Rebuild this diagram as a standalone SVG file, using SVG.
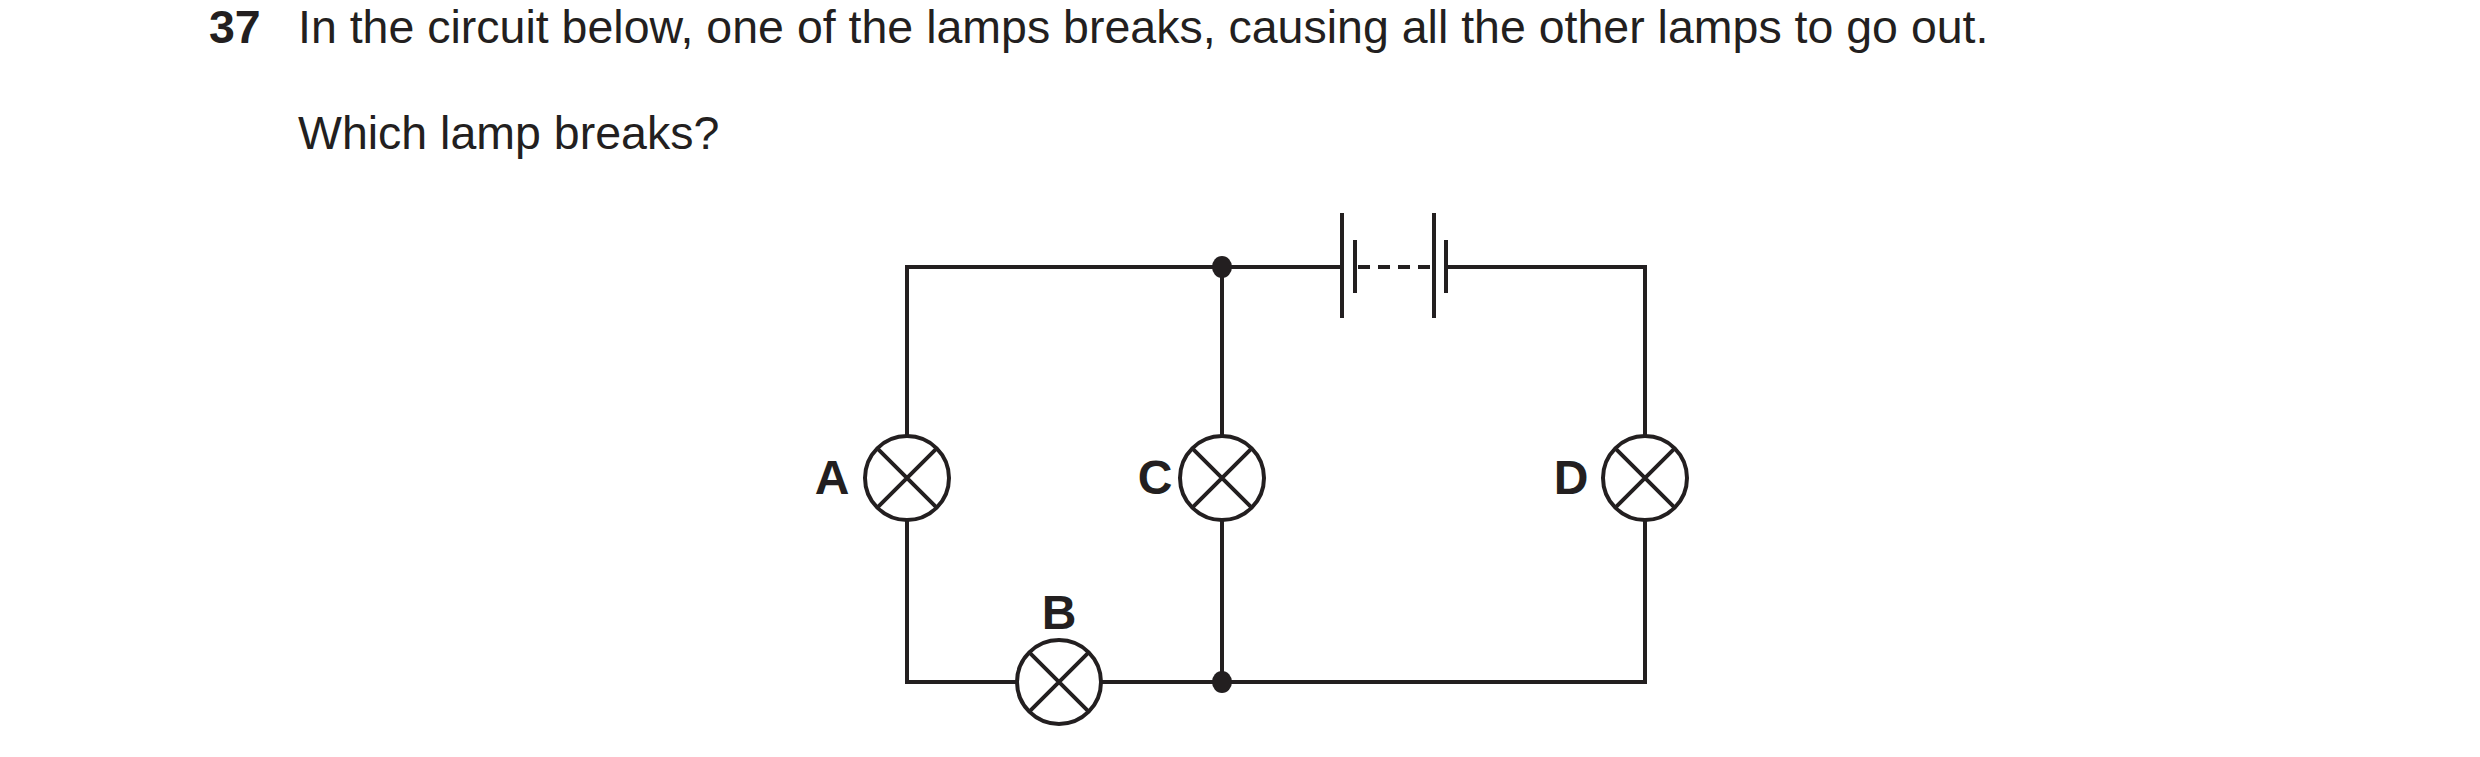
<svg xmlns="http://www.w3.org/2000/svg" width="2480" height="757" viewBox="0 0 2480 757">
<style>
.w{stroke:#231f20;stroke-width:4;fill:none}
.lamp{stroke:#231f20;stroke-width:4;fill:#fff}
.q{font-family:"Liberation Sans",Arial,sans-serif;font-size:46.5px;fill:#231f20}
.lb{font-family:"Liberation Sans",Arial,sans-serif;font-size:48px;font-weight:bold;fill:#231f20;text-anchor:middle}
</style>
<defs>
<g id="lampSym"><circle r="42" class="lamp"/><path class="w" d="M-29.7,-29.7L29.7,29.7M-29.7,29.7L29.7,-29.7"/></g>
</defs>
<rect width="2480" height="757" fill="#fff"/>
<text class="q" x="209" y="43" font-weight="bold">37</text>
<text class="q" x="298" y="43">In the circuit below, one of the lamps breaks, causing all the other lamps to go out.</text>
<text class="q" x="298" y="149">Which lamp breaks?</text>
<g id="connectors">
<path class="w" d="M1342,267H907V682H1645V267H1446"/>
<path class="w" d="M1222,267V682"/>
<path class="w" d="M1342,213V318M1434,213V318"/>
<path class="w" d="M1355,240V293M1446,240V293"/>
<path class="w" d="M1358,267H1432" stroke-dasharray="12,8"/>
</g>
<g id="lampA"><use href="#lampSym" x="907" y="478"/><text class="lb" x="832" y="494">A</text></g>
<g id="lampC"><use href="#lampSym" x="1222" y="478"/><text class="lb" x="1155" y="494">C</text></g>
<g id="lampD"><use href="#lampSym" x="1645" y="478"/><text class="lb" x="1571" y="494">D</text></g>
<g id="lampB"><use href="#lampSym" x="1059" y="682"/><text class="lb" x="1059" y="629">B</text></g>
<g id="junctions"><ellipse cx="1222" cy="267" rx="10" ry="11" fill="#231f20"/><ellipse cx="1222" cy="682" rx="10" ry="11" fill="#231f20"/></g>
</svg>
